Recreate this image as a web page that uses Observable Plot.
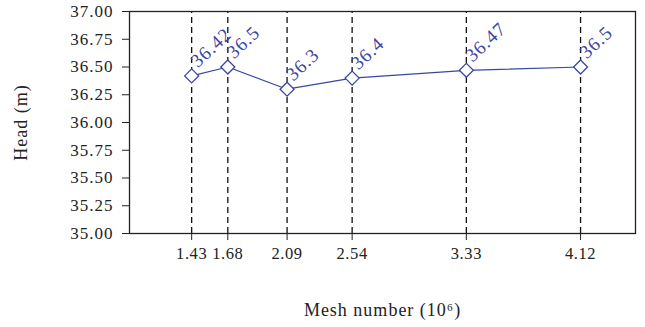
<!DOCTYPE html>
<html>
<head>
<meta charset="utf-8">
<script src="https://cdn.jsdelivr.net/npm/d3@7"></script>
<script src="https://cdn.jsdelivr.net/npm/@observablehq/plot@0.6"></script>
<style>
  body { margin: 0; background: #fff; }
  #chart svg { display: block; }
  #chart svg text { letter-spacing: 1px; }
  #chart svg .xticks text { letter-spacing: 0.6px; }
</style>
</head>
<body>
<div id="chart"></div>
<script>
const meshNumbers = [1.43, 1.68, 2.09, 2.54, 3.33, 4.12];
const heads = [36.42, 36.5, 36.3, 36.4, 36.47, 36.5];
const headLabels = ["36.42", "36.5", "36.3", "36.4", "36.47", "36.5"];
const yTicks = [35.00, 35.25, 35.50, 35.75, 36.00, 36.25, 36.50, 36.75, 37.00];

const data = meshNumbers.map((m, i) => ({mesh: m, head: heads[i], label: headLabels[i]}));
const blue = "#3b46a3";

const chart = Plot.plot({
  width: 645,
  height: 327,
  marginLeft: 129,
  marginRight: 10,
  marginTop: 11,
  marginBottom: 94,
  style: {fontFamily: "'Liberation Serif', 'Times New Roman', serif", fontSize: "17px", color: "#222", background: "#fff"},
  x: {domain: [1.0, 4.5]},
  y: {domain: [35, 37]},
  marks: [
    Plot.ruleX(meshNumbers, {x: d => d, y1: 35, y2: 37, stroke: "#111", strokeWidth: 1.3, strokeDasharray: "6,4"}),
    Plot.frame({stroke: "#222", strokeWidth: 1.3}),
    Plot.axisY({ticks: yTicks, tickFormat: d3.format(".2f"), tickSize: 7, tickPadding: 9, fontSize: 17, label: null}),
    Plot.axisY({ticks: [], tickSize: 0, label: "Head (m)", labelAnchor: "center", labelArrow: "none", labelOffset: 115, fontSize: 18}),
    Plot.axisX({ticks: meshNumbers, tickFormat: d3.format(".2f"), tickSize: 7, tickPadding: 7, fontSize: 16.5, label: null, className: "xticks"}),
    Plot.axisX({ticks: [], tickSize: 0, label: "Mesh number (10⁶)", labelAnchor: "center", labelArrow: "none", labelOffset: 82, fontSize: 18}),
    Plot.line(data, {x: "mesh", y: "head", stroke: blue, strokeWidth: 1.2}),
    Plot.dot(data, {x: "mesh", y: "head", symbol: "diamond2", r: 6.3, stroke: blue, fill: "white", strokeWidth: 1.3}),
    Plot.text(data, {x: "mesh", y: "head", text: "label", fill: blue, rotate: -43, textAnchor: "start", dx: 2, dy: -12, fontSize: 19})
  ]
});
document.getElementById("chart").appendChild(chart);
</script>
</body>
</html>
